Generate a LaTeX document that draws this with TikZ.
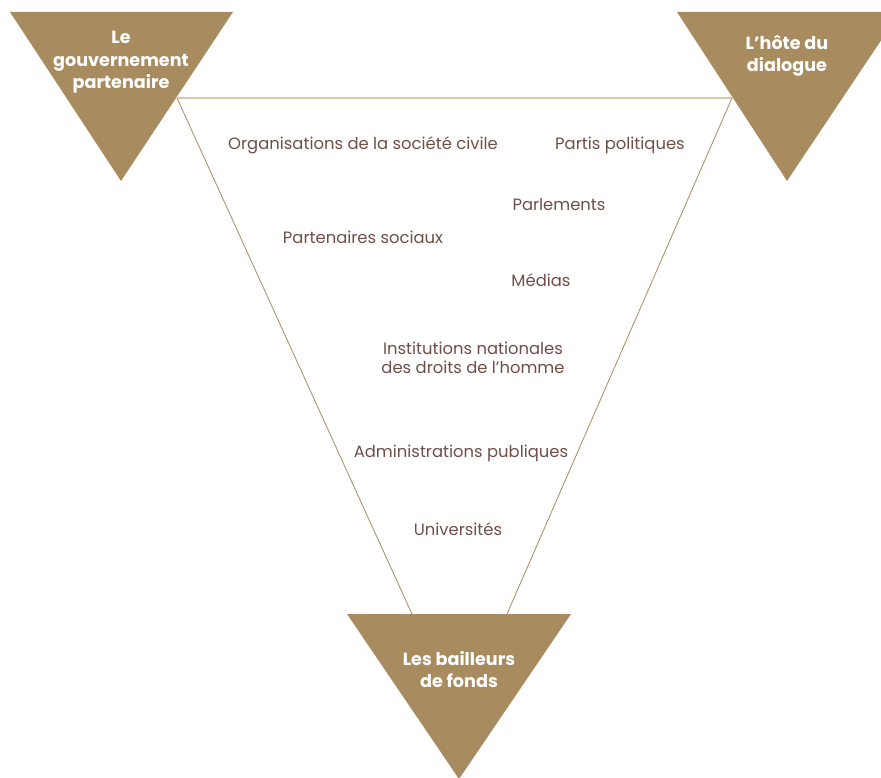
\documentclass[tikz,border=0pt]{standalone}
\usepackage{fontspec}
\setmainfont{Poppins}
\usepackage{tikz}

\definecolor{gold}{HTML}{A88B5F}
\definecolor{pale}{HTML}{D8C9AE}
\definecolor{cocoa}{HTML}{6E4F47}

\tikzset{
  actor/.style={fill=gold},
  rolelabel/.style={text=white, align=center, font=\bfseries\fontsize{17.6}{22.5}\selectfont},
  member/.style={text=cocoa, align=center, font=\fontsize{16.4}{19}\selectfont},
  link/.style={draw=gold, line width=0.8pt},
  toplink/.style={draw=pale, line width=1.3pt}
}

\begin{document}
\begin{tikzpicture}[x=1pt,y=-1pt]
\useasboundingbox (0,0) rectangle (881,778);
\clip (0,0) rectangle (881,778);
% corners of the three actors
\coordinate (govA) at (10,12) ; % gouvernement
\coordinate (govB) at (233,12) ;
\coordinate (govC) at (121,181) ;
\coordinate (hostA) at (677,12) ; % hote
\coordinate (hostB) at (900,12) ;
\coordinate (hostC) at (787,181) ;
\coordinate (donA) at (347,614) ; % bailleurs
\coordinate (donB) at (571,614) ;
\coordinate (donC) at (459,779) ;
% where the frame meets them
\coordinate (govJ) at (177,98) ;
\coordinate (hostJ) at (732,98) ;
\coordinate (donL) at (412,614) ;
\coordinate (donR) at (507,614) ;
\draw[toplink] (govJ) -- (hostJ) ;
\draw[link] (govJ) -- (donL) ;
\draw[link] (hostJ) -- (donR) ;
\fill[actor] (govA) -- (govB) -- (govC) -- cycle ;
\fill[actor] (hostA) -- (hostB) -- (hostC) -- cycle ;
\fill[actor] (donA) -- (donB) -- (donC) -- cycle ;
\node[rolelabel] (gov) at (121,62.5) {Le\\gouvernement\\partenaire} ;
\node[rolelabel] (host) at (787,56) {L’hôte du\\dialogue} ;
\node[rolelabel] (donors) at (459,669.5) {Les bailleurs\\de fonds} ;
% the members
\node[member] (osc) at (363,145) {Organisations de la société civile} ;
\node[member] (partis) at (620,145) {Partis politiques} ;
\node[member] (parl) at (559,205) {Parlements} ;
\node[member] (sociaux) at (363,237.5) {Partenaires sociaux} ;
\node[member] (medias) at (541,280.5) {Médias} ;
\node[member] (indh) at (473,358) {Institutions nationales\\des droits de l’homme} ;
\node[member] (admin) at (461,453) {Administrations publiques} ;
\node[member] (univ) at (458,529.5) {Universités} ;
\end{tikzpicture}
\end{document}
